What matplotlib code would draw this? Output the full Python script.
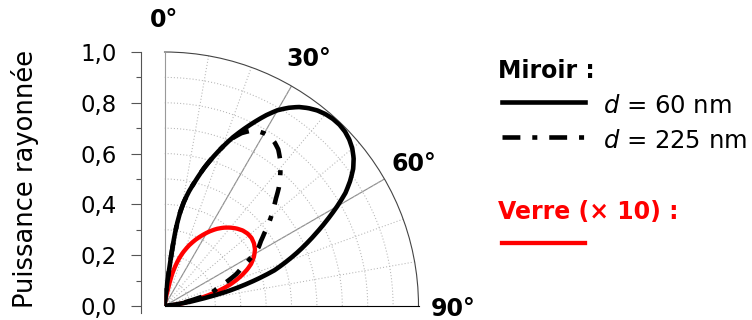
import numpy as np
import matplotlib
matplotlib.use("Agg")
import matplotlib.pyplot as plt
from matplotlib.lines import Line2D

# ---------------- data (angles in degrees, radiated power) ----------------
theta_d60 = [0, 3, 5, 6, 6.8, 7.3, 7.7, 8.1, 8.7, 9.5, 10.5, 12, 14, 16, 18, 20,
             22, 24, 26, 28, 30, 32, 34, 36, 38, 40, 42, 44, 46, 48, 50, 52, 54,
             56, 58, 60, 62, 64, 66, 68, 70, 72, 74, 76, 77, 78, 79, 80, 81, 82,
             83.5, 86, 90]
r_d60 = [0, 0.005, 0.02, 0.05, 0.10, 0.16, 0.22, 0.28, 0.33, 0.375, 0.415, 0.46,
         0.51, 0.565, 0.615, 0.665, 0.715, 0.76, 0.805, 0.85, 0.89, 0.92, 0.945,
         0.963, 0.977, 0.986, 0.991, 0.992, 0.988, 0.979, 0.965, 0.945, 0.918,
         0.882, 0.84, 0.785, 0.728, 0.672, 0.618, 0.565, 0.51, 0.455, 0.375,
         0.292, 0.25, 0.20, 0.155, 0.12, 0.08, 0.05, 0.025, 0.008, 0]

theta_d225 = [0, 3, 5, 6, 6.8, 7.3, 7.7, 8.1, 8.7, 9.5, 10.5, 12, 14, 16, 18, 20,
              22, 24, 26, 28, 30, 32, 34, 36, 38, 40, 42, 44, 46, 48, 50, 52, 54,
              56, 58, 60, 62, 64, 66, 68, 70, 72, 74, 75.5, 77, 79, 80.5, 82, 85, 90]
r_d225 = [0, 0.005, 0.02, 0.05, 0.10, 0.16, 0.22, 0.28, 0.33, 0.375, 0.415, 0.46,
          0.51, 0.565, 0.615, 0.665, 0.712, 0.745, 0.767, 0.780, 0.785, 0.785,
          0.776, 0.762, 0.738, 0.71, 0.68, 0.648, 0.610, 0.578, 0.548, 0.518,
          0.485, 0.458, 0.437, 0.405, 0.368, 0.335, 0.31, 0.275, 0.24, 0.215,
          0.195, 0.17, 0.13, 0.09, 0.065, 0.045, 0.015, 0]

theta_verre = [0, 5, 8, 10, 11.5, 12.5, 13.5, 15, 17, 19, 22, 25, 28, 31, 34, 37,
               40, 43, 46, 49, 52, 55, 58, 61, 64, 66, 68, 70, 72, 74, 76, 78, 80,
               82, 84, 87, 90]
r_verre = [0, 0.005, 0.02, 0.04, 0.07, 0.10, 0.13, 0.16, 0.195, 0.222, 0.257,
           0.287, 0.315, 0.342, 0.366, 0.386, 0.403, 0.417, 0.428, 0.434, 0.435,
           0.43, 0.42, 0.403, 0.38, 0.358, 0.332, 0.303, 0.27, 0.228, 0.182,
           0.135, 0.095, 0.06, 0.035, 0.01, 0]

radial_ticks = [0.0, 0.2, 0.4, 0.6, 0.8, 1.0]
radial_ticklabels = ["0,0", "0,2", "0,4", "0,6", "0,8", "1,0"]
radial_minor = [0.1, 0.3, 0.5, 0.7, 0.9]
angle_ticks = [0, 30, 60, 90]
angle_labels = ["0°", "30°", "60°", "90°"]
y_label = "Puissance rayonnée"
legend_title_1 = "Miroir :"
legend_labels = [r"$d$ = 60 nm", r"$d$ = 225 nm"]
legend_title_2 = "Verre (× 10) :"

# ---------------- style ----------------
plt.rcParams['font.family'] = ['DejaVu Sans']
plt.rcParams['mathtext.fontset'] = 'custom'
plt.rcParams['mathtext.rm'] = 'DejaVu Sans'
plt.rcParams['mathtext.it'] = 'DejaVu Sans:italic'

W, H = 752, 320
fig = plt.figure(figsize=(W / 100, H / 100), dpi=100)
cx, cy, R = 164.5, 306.0, 254.0   # pixel geometry (from top-left)


def fx(x):
    return x / W


def fy(y):
    return 1 - y / H


dashdot = (0, (3.9, 2.6, 1.1, 2.6))
LW = 3.3

# ---------------- polar quarter ----------------
ax = fig.add_axes([cx / W, (H - cy) / H, R / W, R / H], projection='polar')
ax.set_theta_zero_location('N')
ax.set_theta_direction(-1)
ax.set_thetamin(0)
ax.set_thetamax(90)
ax.set_ylim(0, 1)
ax.set_yticks(np.arange(0.1, 1.0, 0.1))
ax.set_yticklabels([])
ax.set_xticks(np.deg2rad(np.arange(10, 90, 10)))
ax.set_xticklabels([])
ax.grid(True, color='#b4b4b4', linestyle=(0, (1, 2)), linewidth=0.75)
ax.tick_params(axis='x', direction='in', length=3, width=0.8, colors='#555555')
ax.tick_params(axis='y', length=0)
for a in (30, 60):
    ax.axvline(np.deg2rad(a), color='#8a8a8a', lw=0.8, zorder=1)
ax.spines['polar'].set_color('#444444')
ax.spines['polar'].set_linewidth(0.8)
ax.spines['start'].set_color('#999999')
ax.spines['start'].set_linewidth(0.8)
ax.spines['end'].set_visible(False)
ax.spines['inner'].set_visible(False)

lines = []
lines += ax.plot(np.deg2rad(theta_verre), r_verre, color='#ff0000', lw=3.1, zorder=3)
lines += ax.plot(np.deg2rad(theta_d225), r_d225, color='black', lw=LW,
                 linestyle=dashdot, zorder=4)
lines += ax.plot(np.deg2rad(theta_d60), r_d60, color='black', lw=LW, zorder=5)
for ln in lines:
    ln.get_path()._interpolation_steps = 20

for a, lab in zip(angle_ticks, angle_labels):
    ax.text(np.deg2rad(a), 1.135, lab, ha='center', va='center_baseline',
            fontsize=17, fontweight='bold', clip_on=False)

# ---------------- left radial scale ----------------
ext = 0.028
axl = fig.add_axes([141 / W, (H - cy - ext * R) / H, 0.001, (1 + ext) * R / H])
axl.set_ylim(-ext, 1.0)
axl.patch.set_visible(False)
for s in ('top', 'right', 'bottom'):
    axl.spines[s].set_visible(False)
axl.spines['left'].set_color('#555555')
axl.spines['left'].set_linewidth(0.8)
axl.set_xticks([])
axl.set_yticks(radial_ticks)
axl.set_yticklabels(radial_ticklabels)
axl.set_yticks(radial_minor, minor=True)
axl.tick_params(axis='y', which='major', length=7, width=0.8, color='#555555',
                pad=10.5, labelsize=16.5)
axl.tick_params(axis='y', which='minor', length=3.6, width=0.8, color='#555555')

fig.text(fx(33), fy(179), y_label, rotation=90, ha='center', va='baseline',
         rotation_mode='anchor', fontsize=18.5)

# ---------------- legend ----------------
fig.text(fx(498), fy(78.3), legend_title_1, fontsize=17, fontweight='bold', va='baseline')
fig.add_artist(Line2D([fx(502), fx(585)], [fy(102), fy(102)], transform=fig.transFigure,
                      color='black', lw=LW))
fig.text(fx(603), fy(113.3), legend_labels[0], fontsize=17.5, va='baseline')
fig.add_artist(Line2D([fx(502), fx(585)], [fy(136.7), fy(136.7)], transform=fig.transFigure,
                      color='black', lw=LW, linestyle=dashdot))
fig.text(fx(603), fy(148.3), legend_labels[1], fontsize=17.5, va='baseline')
fig.text(fx(498), fy(219.5), legend_title_2, fontsize=17, fontweight='bold',
         color='#ff0000', va='baseline')
fig.add_artist(Line2D([fx(502), fx(585)], [fy(243), fy(243)], transform=fig.transFigure,
                      color='#ff0000', lw=3.1))

fig.savefig("out.png", dpi=100)
